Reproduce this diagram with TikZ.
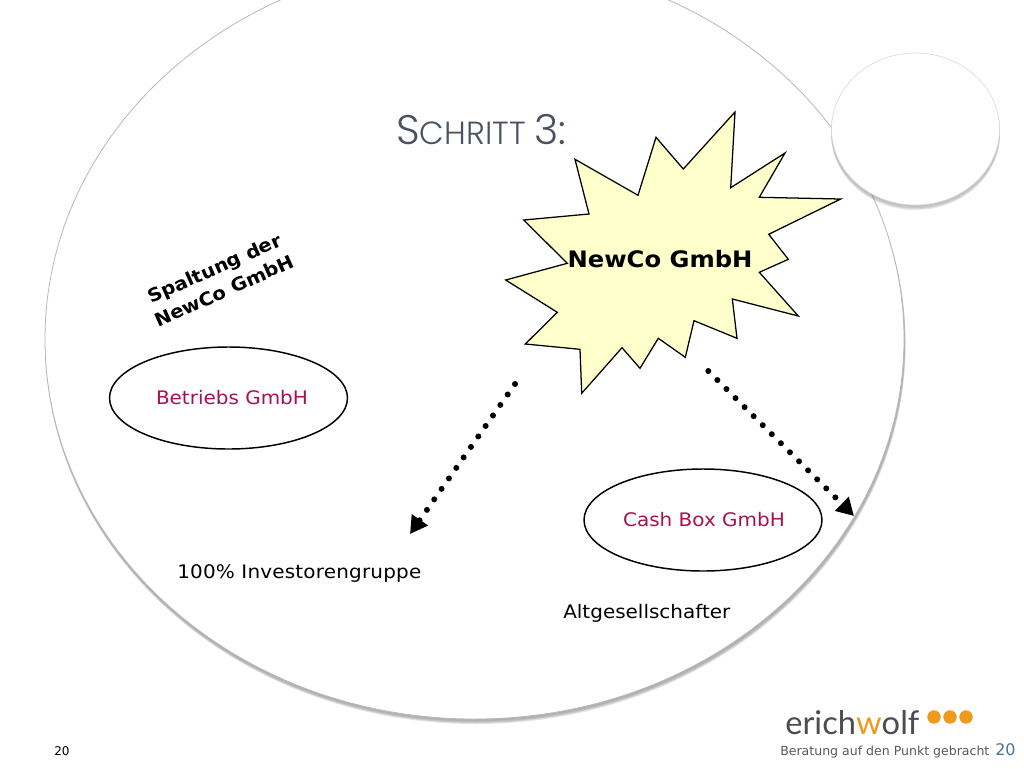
\documentclass[tikz,border=0pt]{standalone}
\usepackage{fontspec}
\usetikzlibrary{arrows.meta,shapes.geometric}
\setmainfont{DejaVu Sans}
\newfontfamily\verd[FakeStretch=1.07]{DejaVu Sans}
\newfontfamily\titlefont{Poppins Light}
\newfontfamily\logofont{Lato}
\definecolor{titlegray}{HTML}{4A5262}
\definecolor{crimson}{HTML}{A5124E}
\definecolor{starfill}{HTML}{FFFFCC}
\definecolor{logogray}{HTML}{4D4D4D}
\definecolor{logoorange}{HTML}{EE9A1A}
\definecolor{numblue}{HTML}{4F7396}
\tikzset{
  x=0.75pt,y=-0.75pt,
  company/.style={ellipse,draw=black,line width=1.1pt,minimum width=178.5pt,minimum height=76.5pt,inner sep=0pt,text=crimson,font=\verd\fontsize{14}{16}\selectfont},
  plain/.style={font=\verd\fontsize{14}{16}\selectfont,text=black,inner sep=0pt},
  dotarrow/.style={line width=4.5pt,line cap=round,dash pattern=on 0pt off 9.6pt,-{Triangle[length=13pt,width=14pt,line cap=butt]}},
}
\begin{document}
\begin{tikzpicture}
\useasboundingbox (0,0) rectangle (1024,768);
\fill[white] (0,0) rectangle (1024,768);
% large circle: soft shadow
\begin{scope}
\clip (0,0) rectangle (1024,768);
\foreach \o/\c in {4.5/85,3.5/75,2.8/65,2/55,1.4/45}{
  \fill[black!\c!white,opacity=0.12] (\o*0.25+474.5,\o+339.5) ellipse [x radius=430,y radius=380];
}
\fill[white] (474.5,339) ellipse [x radius=429.5,y radius=380];
\draw[black!28,line width=0.6pt] (474.5,339) ellipse [x radius=429.5,y radius=380];
\end{scope}
% small circle
\foreach \o/\c in {5/90,4/75,3/60,2/45,1/35}{
  \fill[black!\c,opacity=0.10] (915.5,\o+129) ellipse [x radius=84.5,y radius=76];
}
\fill[white] (915.5,129) ellipse [x radius=84,y radius=76];
\draw[black!14,line width=0.5pt] (915.5,129) ellipse [x radius=84,y radius=76];

\node[anchor=base west,inner sep=0pt,text=titlegray] (title) at (396,144)
  {\titlefont\fontsize{31}{36}\selectfont S\fontsize{24}{30}\selectfont CHRITT \fontsize{31}{36}\selectfont 3:};

\draw[fill=starfill,draw=black,line width=0.95pt,line join=miter,miter limit=10]
 (735,112)--(730.7,187.7)--(785,153)--(759.3,197.3)--(840.7,199)--(768.7,234.3)--(788.3,259.3)--(759.3,272.3)--(798.3,316)--(732.3,299)--(737,338.3)--(694,320.7)--(685.3,357.3)--(658.3,338.3)--(640,368.3)--(622,347.7)--(581.7,393.3)--(580,349.3)--(525.3,344)--(557.3,312.3)--(505.7,280)--(567.3,263.3)--(523.7,220)--(589,214)--(575,159.3)--(638,195.3)--(656,137.3)--(683.3,169)--cycle;
\node[font=\verd\bfseries\fontsize{17}{20}\selectfont,text=black,inner sep=0pt] (newco) at (660,259) {NewCo GmbH};

\node[rotate=24,align=center,font=\verd\bfseries\fontsize{13.8}{18.5}\selectfont,text=black,inner sep=0pt] (spaltung) at (219.5,279.5) {Spaltung der\\NewCo GmbH};

\node[company] (betriebs) at (228.5,398) {\hspace*{5.2pt}\raisebox{-0.75pt}{Betriebs GmbH}};
\node[company] (cash) at (703,520) {\hspace*{1.5pt}\raisebox{-0.75pt}{Cash Box GmbH}};

\node[plain,anchor=base west] (invest) at (177,578) {\addfontfeature{LetterSpace=1}100\% Investorengruppe};
\node[plain,anchor=base west] (altges) at (563,618) {Altgesellschafter};

\coordinate (lstart) at (515,384);
\coordinate (lend) at (410,534);
\coordinate (rstart) at (708.3,371);
\coordinate (rend) at (854,516);
\draw[dotarrow] (lstart) -- (lend);
\draw[dotarrow] (rstart) -- (rend);

% logo
\node[anchor=base west,inner sep=0pt,text=logogray] (logo) at (785,734)
  {\logofont\fontsize{24.5}{30}\selectfont erich\textcolor{logoorange}{w}olf};
\fill[logoorange] (934,717) circle [radius=6.7] (950,717) circle [radius=6.7] (966,717) circle [radius=6.7];
\node[anchor=base west,inner sep=0pt,text=black!65,font=\fontsize{9.4}{12}\selectfont] (claim) at (780,755) {Beratung auf den Punkt gebracht};
\node[anchor=base west,inner sep=0pt,text=numblue,font=\fontsize{12}{14}\selectfont] (num) at (995,755) {20};
\node[anchor=base,inner sep=0pt,text=black,font=\fontsize{9}{11}\selectfont] (page) at (62,755) {20};
\end{tikzpicture}
\end{document}
